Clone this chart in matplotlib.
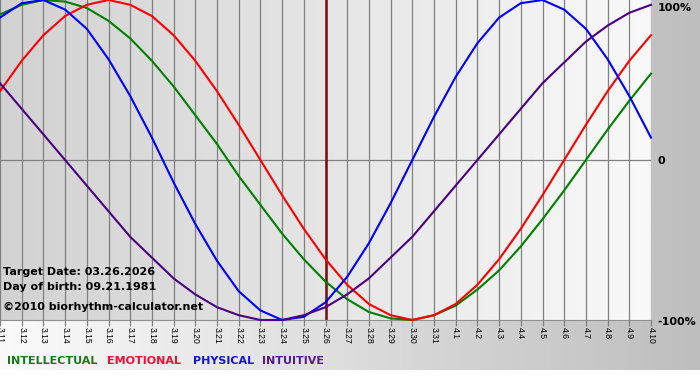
import numpy as np
import matplotlib
matplotlib.use("Agg")
import matplotlib.pyplot as plt
from matplotlib.colors import LinearSegmentedColormap

# dates shown on the x axis (3.11 .. 4.10)
dates = ['3.11', '3.12', '3.13', '3.14', '3.15', '3.16', '3.17', '3.18', '3.19', '3.20',
         '3.21', '3.22', '3.23', '3.24', '3.25', '3.26', '3.27', '3.28', '3.29', '3.30',
         '3.31', '4.1', '4.2', '4.3', '4.4', '4.5', '4.6', '4.7', '4.8', '4.9', '4.10']
target_idx = 15  # 3.26

# daily values (-1 .. 1)
intellectual = [0.91, 0.97, 1.00, 0.99, 0.95, 0.87, 0.76, 0.62, 0.46, 0.28,
                0.10, -0.10, -0.28, -0.46, -0.62, -0.76, -0.87, -0.95, -0.99, -1.00,
                -0.97, -0.91, -0.81, -0.69, -0.54, -0.37, -0.19, 0.00, 0.19, 0.37, 0.54]
emotional = [0.43, 0.62, 0.78, 0.90, 0.97, 1.00, 0.97, 0.90, 0.78, 0.62,
             0.43, 0.22, 0.00, -0.22, -0.43, -0.62, -0.78, -0.90, -0.97, -1.00,
             -0.97, -0.90, -0.78, -0.62, -0.43, -0.22, 0.00, 0.22, 0.43, 0.62, 0.78]
physical = [0.89, 0.98, 1.00, 0.94, 0.82, 0.63, 0.40, 0.14, -0.14, -0.40,
            -0.63, -0.82, -0.94, -1.00, -0.98, -0.89, -0.73, -0.52, -0.27, 0.00,
            0.27, 0.52, 0.73, 0.89, 0.98, 1.00, 0.94, 0.82, 0.63, 0.40, 0.14]
intuitive = [0.48, 0.32, 0.16, 0.00, -0.16, -0.32, -0.48, -0.61, -0.74, -0.84,
             -0.92, -0.97, -1.00, -1.00, -0.97, -0.92, -0.84, -0.74, -0.61, -0.48,
             -0.32, -0.16, 0.00, 0.16, 0.32, 0.48, 0.61, 0.74, 0.84, 0.92, 0.97]

names = ['INTELLECTUAL', 'EMOTIONAL', 'PHYSICAL', 'INTUITIVE']
colors = ['#008000', '#ff0000', '#0000ff', '#4b0082']
legend_colors = ['#1a7a1a', '#ee1133', '#1515cc', '#561c8c']

W, H = 700, 380
fig = plt.figure(figsize=(7, 3.8), dpi=100, facecolor='white')

grad = np.linspace(0, 1, 256).reshape(1, -1)

# page background: light on the left, grey on the right
bg = fig.add_axes([0, 10 / H, 1, 370 / H], zorder=-10)
bg.imshow(grad, aspect='auto', extent=[0, 1, 0, 1],
          cmap=LinearSegmentedColormap.from_list('bg', ['#fbfbfb', '#bebebe']))
bg.set_axis_off()

ax = fig.add_axes([0, 60 / H, 651 / W, 320 / H])
ax.imshow(grad, aspect='auto', extent=[0, 30, -1, 1], zorder=0,
          cmap=LinearSegmentedColormap.from_list('plot', ['#d2d2d2', '#f9f9f9']))

x = np.arange(len(dates))
for i in x:
    ax.axvline(i, color='#808080', lw=0.9, zorder=1)
ax.axhline(0, color='#808080', lw=0.9, zorder=1)
ax.axvline(target_idx, color='#7a0a0a', lw=1.8, zorder=1)

for vals, c in zip([intellectual, emotional, physical, intuitive], colors):
    ax.plot(x, vals, color=c, lw=1.5, zorder=3, clip_on=False)

ax.set_xlim(0, 30)
ax.set_ylim(-1, 1)
ax.set_yticks([])
ax.set_xticks(x)
ax.set_xticklabels(dates, rotation=270, fontsize=6.2, family='Liberation Sans',
                   va='top', ha='center')
ax.tick_params(axis='x', length=4, width=0.9, color='#808080', pad=1)
for s in ['top', 'left', 'right']:
    ax.spines[s].set_visible(False)
ax.spines['bottom'].set_color('#909090')
ax.spines['bottom'].set_linewidth(0.8)

bold = dict(fontsize=8, fontweight='bold', family='DejaVu Sans', color='black')

ax.text(3 / 651, (320 - 272) / 320, 'Target Date: 03.26.2026', transform=ax.transAxes,
        va='center', ha='left', zorder=5, **bold)
ax.text(3 / 651, (320 - 287) / 320, 'Day of birth: 09.21.1981', transform=ax.transAxes,
        va='center', ha='left', zorder=5, **bold)
ax.text(3 / 651, (320 - 307) / 320, '\u00a92010 biorhythm-calculator.net', transform=ax.transAxes,
        va='center', ha='left', zorder=5, **bold)

# right side percent labels
fig.text(658 / W, 1 - 8 / H, '100%', va='center', ha='left', **bold)
fig.text(658 / W, 1 - 161 / H, '0', va='center', ha='left', **bold)
fig.text(657 / W, 1 - 322 / H, '-100%', va='center', ha='left', **bold)

# legend row
leg_x = [7, 107, 193, 262]
for name, c, px in zip(names, legend_colors, leg_x):
    fig.text(px / W, 1 - 361 / H, name, color=c, fontsize=8, fontweight='bold',
             family='DejaVu Sans', va='center', ha='left')

fig.savefig('out.png', dpi=100, facecolor='white')
